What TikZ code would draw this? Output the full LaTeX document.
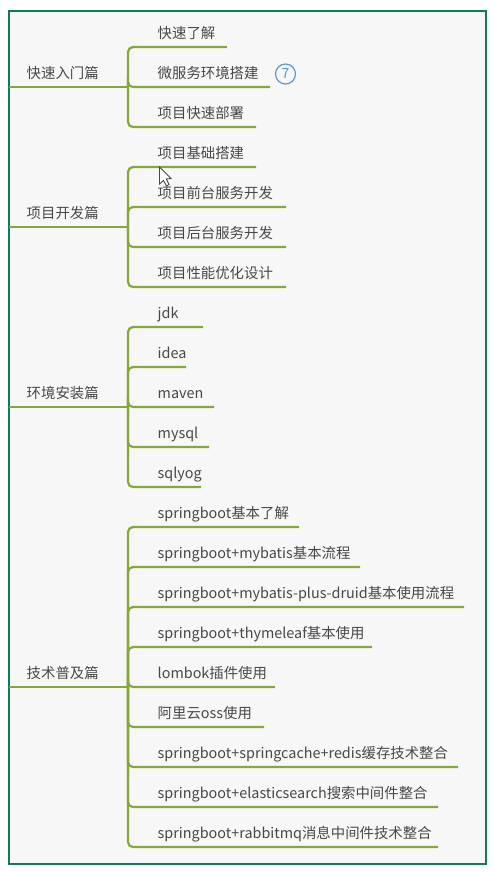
\documentclass[tikz,border=0pt]{standalone}
\usepackage{fontspec}
\setmainfont{Noto Sans CJK SC}
\definecolor{frameC}{HTML}{0E7A5E}
\definecolor{paperC}{HTML}{F7F7F7}
\definecolor{lineC}{HTML}{85A83C}
\definecolor{textC}{HTML}{484848}
\definecolor{badgeC}{HTML}{5B9BD0}
\tikzset{
  frameBox/.style={draw=frameC,fill=paperC,line width=2pt,outer sep=0pt},
  lbl/.style={anchor=base west,inner sep=0pt,text=textC,font=\fontsize{14.4}{14.4}\selectfont},
  link/.style={draw=lineC,line width=2.2pt,rounded corners=5pt},
  trunk/.style={draw=lineC,line width=2.2pt},
  badgeNode/.style={circle,draw=badgeC,line width=1.2pt,minimum size=20pt,inner sep=0pt,text=badgeC,font=\fontsize{14}{14}\selectfont},
  cursorShape/.style={fill=white,draw=textC,line width=0.9pt,line join=miter}
}
\newcommand{\branch}[5]{% name, junction, y, end x, text
  \node[lbl] (#1) at (157.5,{-(#3)+8.4}) {#5};
  \coordinate (#1e) at (#4,{-(#3)});
  \draw[link] (#2) |- (#1e);
}
\begin{document}
\begin{tikzpicture}[x=1pt,y=1pt]
\useasboundingbox (0,-873) rectangle (493,0);
\fill[white] (0,-873) rectangle (493,0);
\node[frameBox,minimum width=477pt,minimum height=853pt,inner sep=0pt,anchor=north west] (frame) at (8.5,-10.5) {};

% group 1
\coordinate (j1) at (128,-87);
\coordinate (r1) at (9,-87);
\node[lbl] (g1) at (26.5,-78.4) {快速入门篇};
\draw[trunk] (r1) -- (j1);
\branch{a1}{j1}{47}{227}{快速了解}
\branch{a2}{j1}{87}{270}{微服务环境搭建}
\branch{a3}{j1}{127}{256}{项目快速部署}
\node[badgeNode] (badge) at (285.5,-74) {7};

% group 2
\coordinate (j2) at (128,-227);
\coordinate (r2) at (9,-227);
\node[lbl] (g2) at (26.5,-218.4) {项目开发篇};
\draw[trunk] (r2) -- (j2);
\branch{b1}{j2}{167}{256}{项目基础搭建}
\branch{b2}{j2}{207}{286}{项目前台服务开发}
\branch{b3}{j2}{247}{286}{项目后台服务开发}
\branch{b4}{j2}{287}{286}{项目性能优化设计}

% group 3
\coordinate (j3) at (128,-407);
\coordinate (r3) at (9,-407);
\node[lbl] (g3) at (26.5,-398.4) {环境安装篇};
\draw[trunk] (r3) -- (j3);
\branch{c1}{j3}{327}{203}{jdk}
\branch{c2}{j3}{367}{186}{idea}
\branch{c3}{j3}{407}{214}{maven}
\branch{c4}{j3}{447}{209}{mysql}
\branch{c5}{j3}{487}{201}{sqlyog}

% group 4
\coordinate (j4) at (128,-687);
\coordinate (r4) at (9,-687);
\node[lbl] (g4) at (26.5,-678.4) {技术普及篇};
\draw[trunk] (r4) -- (j4);
\branch{d1}{j4}{527}{299}{springboot基本了解}
\branch{d2}{j4}{567}{360}{springboot+mybatis基本流程}
\branch{d3}{j4}{607}{464}{springboot+mybatis-plus-druid基本使用流程}
\branch{d4}{j4}{647}{372}{springboot+thymeleaf基本使用}
\branch{d5}{j4}{687}{275}{lombok插件使用}
\branch{d6}{j4}{727}{264}{阿里云oss使用}
\branch{d7}{j4}{767}{458}{springboot+springcache+redis缓存技术整合}
\branch{d8}{j4}{807}{438}{springboot+elasticsearch搜索中间件整合}
\branch{d9}{j4}{847}{438}{springboot+rabbitmq消息中间件技术整合}

% mouse cursor
\draw[cursorShape] (159.5,-167) -- (159.5,-184) -- (163.5,-180.5) -- (166.5,-186) -- (169,-184.5) -- (166.3,-179) -- (171,-178.5) -- cycle;
\end{tikzpicture}
\end{document}
